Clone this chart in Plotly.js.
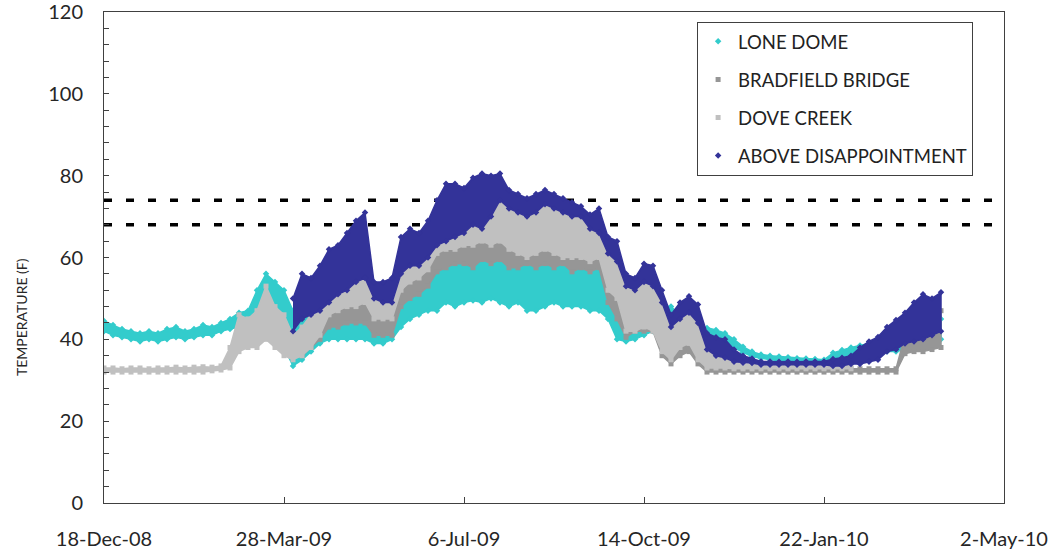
<!DOCTYPE html>
<html>
<head>
<meta charset="utf-8">
<script src="https://cdn.plot.ly/plotly-3.0.1.min.js"></script>
<style>html,body{margin:0;padding:0;background:#fff;}#chart{width:1054px;height:552px;}</style>
</head>
<body>
<div id="chart"></div>
<script>
// Sample grid: one reading every 5 days starting 18-Dec-08 (index 0 .. 94)
const startDate = '2008-12-18';
const sampleEveryDays = 5;

const seriesNames = ['LONE DOME', 'BRADFIELD BRIDGE', 'DOVE CREEK', 'ABOVE DISAPPOINTMENT'];
const thresholds = [74, 68];
const xTick0 = '2008-12-18';
const xRangeEnd = '2010-05-02';
const N = null;

// LONE DOME daily low / high band (F)
const loneDomeLow = [42,41,40.5,40,39.5,40,39.5,40,40.5,40,40.5,41,41,42,42.5,43,43,43,44,41,38,
  33.5,35,37,39,40,40,40,40,40,39,39,40,
  43,45,46,47,47,49,48,49,49.5,49,50,49,48,49,47,47,48,49,48,48,48,47,47,45,40,
  39.5,40,41,42,42,40,41,40,40,41,40.5,39.8,38,36.8,35.8,
  35.4,35,34.8,34.6,34.4,34.3,34.2,34,35,35.3,35.5,36,
  36.5,37,37,37,37.5,37.5,38,38,40,N];
const loneDomeHigh = [44.5,43.5,42.5,42,41.5,42,41.5,42.5,43,42,42.5,43.5,43,44,45,46.5,47,52,56,54,52,
  47,45,46,48,50,51,51,50,50,44,44,45,
  50,53,54,56,58.5,59.5,60,60.5,59,61,60,61,59.5,59,60.5,59,60.5,59,60,58.5,59,58.5,60,51,47,
  42,43,44,48,48,48,46,44,42.5,42.8,42.3,41.5,40,38.2,37,
  36.3,36,35.8,35.6,35.4,35.3,35.2,35,36.7,37.4,38,38.5,
  39,39.5,40,40.5,41,41,41.5,42,45,N];

// BRADFIELD BRIDGE daily low / high band (F)
const bradfieldLow = [N,N,N,N,N,N,N,N,N,N,N,N,N,N,N,N,N,N,N,N,N,
  36,36,38,40,43,43,44,44,44,41,41,41,
  48,50,51,53,56.5,57.5,58.5,58.5,57.5,59.5,58.5,59.5,57.5,57.5,58.5,57.5,58.5,57.5,58.5,56.5,57.5,56.5,57.5,49,45,
  40.5,42,42,42,36,34,36,37,34,32,32,32,32,32,32,
  32,32,32,32,32,32,32,32,32,32,32,32,
  32,32,32,32,36.5,37,37,37.5,38,N];
const bradfieldHigh = [N,N,N,N,N,N,N,N,N,N,N,N,N,N,N,N,N,N,N,N,N,
  41,41,43,45,48,48,49,49,49,46,46,46,
  53,55,56,58,64,65,65,66,66,66,66,67,65,64,64,65,65,64,64,63,63,62,62,54,52,
  44,45,45,45,41,38,40,41,38,33.5,32.8,32.8,32.8,32.8,32.8,
  32.8,32.8,32.8,32.8,32.8,32.8,32.8,32.8,32.8,32.8,32.8,32.8,
  32.8,32.8,32.8,32.8,41,42,42,43,47,N];

// DOVE CREEK daily low / high band (F)
const doveCreekLow = [32,32,32,32,32,32,32,32,32,32,32,32,32.3,32.5,33,37,38,38,40,38,36,
  35,36,38,41,46,47,48,48,49,45,45,45,
  52,54,55,57,61,62,62,63,63,64,63,64,62,61,60,61,62,61,60,60,60,59,60,52,50,
  42,42,43,42,37,35,38,39,35,33,33,33,32.8,32.8,32.8,
  32.8,32.8,32.8,32.8,32.8,32.8,32.8,32.8,32.8,32.8,32.8,N,
  N,N,N,N,N,N,N,N,N,N];
const doveCreekHigh = [33,33,32.8,33,33,32.8,33,33,33.2,33,33.2,33.3,33.2,33.5,38,46,45,47,53,48,46,
  41,43,46,50,52,54,56,57,58,51,51,52,
  58,60,60,62,66,68,69,70,71,71,72,76,72,71,71,72,73,72,72,71,71,70,70,62,60,
  54,53,54.5,53,49,43,45,46.5,44,38,36,35.5,34.5,34,34,
  34,33.9,34,34,33.9,34,34,33.9,34,34,34,N,
  N,N,N,N,N,N,N,N,N,N];

// ABOVE DISAPPOINTMENT daily low / high band (F)
const aboveDisLow = [N,N,N,N,N,N,N,N,N,N,N,N,N,N,N,N,N,N,N,N,N,
  42,45,46,47,49,51,52,54,55,50,49,49,
  56,58,58,60,63,64,65,66,68,67,70,74,72,71,70,71,73,72,71,70,70,67,66,61,59,
  53,52,54,53,49,43,45,46.5,44,37.5,36,35.5,34.5,34.3,34.2,
  33.8,33.8,33.8,33.8,33.8,33.8,33.8,33.8,33.5,33.5,34,34,
  34.5,35,37,37.5,39,39.5,40,41,42,N];
const aboveDisHigh = [N,N,N,N,N,N,N,N,N,N,N,N,N,N,N,N,N,N,N,N,N,
  50,56,55,58,62,63,66,69,71,54,54,55,
  65,67,66,69,74,78,78,77,79.5,80.5,80,80.5,76.5,75.5,74.5,75.5,76.5,75.5,74.5,73.5,72.5,70.5,72,65,64,
  56,55,58.5,58,52,46,49,50.5,48.5,41.5,40.5,40,37.5,36,35.3,
  34.6,34.6,34.5,34.6,34.5,34.6,34.6,34.6,35.2,35.5,36,38,
  39.5,40.6,43,44.7,46.5,49,51,50,51.5,N];

const colors = {
  'LONE DOME': '#33CCCC',
  'BRADFIELD BRIDGE': '#969696',
  'DOVE CREEK': '#C0C0C0',
  'ABOVE DISAPPOINTMENT': '#333399'
};
const symbols = {
  'LONE DOME': 'diamond',
  'BRADFIELD BRIDGE': 'square',
  'DOVE CREEK': 'square',
  'ABOVE DISAPPOINTMENT': 'diamond'
};
const bands = {
  'LONE DOME': [loneDomeLow, loneDomeHigh],
  'BRADFIELD BRIDGE': [bradfieldLow, bradfieldHigh],
  'DOVE CREEK': [doveCreekLow, doveCreekHigh],
  'ABOVE DISAPPOINTMENT': [aboveDisLow, aboveDisHigh]
};

function dateAt(i) {
  const p = startDate.split('-').map(Number);
  const t = Date.UTC(p[0], p[1] - 1, p[2]) + i * sampleEveryDays * 86400000;
  return new Date(t).toISOString().slice(0, 10);
}

function bandTrace(name) {
  const lo = bands[name][0], hi = bands[name][1];
  const xs = [], his = [], los = [];
  for (let i = 0; i < lo.length; i++) {
    if (lo[i] === null || hi[i] === null) continue;
    xs.push(dateAt(i)); his.push(hi[i]); los.push(lo[i]);
  }
  return {
    type: 'scatter', mode: 'lines+markers', name: name,
    x: xs.concat(xs.slice().reverse()),
    y: his.concat(los.slice().reverse()),
    fill: 'toself', fillcolor: colors[name],
    line: {color: colors[name], width: 1.5},
    marker: {color: colors[name], symbol: symbols[name], size: 5},
    showlegend: false, hoverinfo: 'skip'
  };
}

// drawn in legend order: LONE DOME at the back, ABOVE DISAPPOINTMENT in front
const traces = seriesNames.map(bandTrace);

seriesNames.forEach(function (name) {
  traces.push({
    type: 'scatter', mode: 'markers', name: name, x: [null], y: [null],
    legendgroup: name,
    marker: {color: colors[name], symbol: symbols[name], size: 5},
    showlegend: true
  });
});

const shapes = thresholds.map(function (v) {
  return {
    type: 'line', xref: 'paper', x0: 0, x1: 1, yref: 'y', y0: v, y1: v,
    line: {color: '#000000', width: 3.5, dash: '8px,14px'}, layer: 'below'
  };
});

const fontFam = 'Lato, "Open Sans", sans-serif';
const layout = {
  width: 1054, height: 552,
  margin: {l: 104, r: 50, t: 12, b: 49},
  paper_bgcolor: '#ffffff', plot_bgcolor: '#ffffff',
  font: {family: fontFam, color: '#262626'},
  showlegend: true,
  xaxis: {
    type: 'date',
    range: [startDate, xRangeEnd],
    tick0: xTick0, dtick: 100 * 86400000,
    tickformat: '%-d-%b-%y',
    ticks: 'inside', ticklen: 6, tickcolor: '#404040',
    showline: true, mirror: true, linecolor: '#404040', linewidth: 1,
    showgrid: false, zeroline: false,
    tickfont: {family: fontFam, size: 20, color: '#262626'},
    ticklabelstandoff: 18, ticklabeloverflow: 'allow'
  },
  yaxis: {
    range: [0, 120], dtick: 20, tick0: 0,
    ticks: 'inside', ticklen: 5, tickcolor: '#404040',
    minor: {dtick: 4, ticks: 'inside', ticklen: 5, tickcolor: '#404040', showgrid: false},
    showline: true, mirror: true, linecolor: '#404040', linewidth: 1,
    showgrid: false, zeroline: false,
    tickfont: {family: fontFam, size: 20, color: '#262626'},
    ticklabelstandoff: 16, ticklabeloverflow: 'allow'
  },
  legend: {
    x: 0.659, y: 0.98, xanchor: 'left', yanchor: 'top',
    bgcolor: '#ffffff', bordercolor: '#404040', borderwidth: 1,
    font: {family: fontFam, size: 18.5, color: '#222222'},
    traceorder: 'grouped', tracegroupgap: 11, itemwidth: 30
  },
  shapes: shapes,
  annotations: [{
    text: 'TEMPERATURE (F)', textangle: -90,
    xref: 'paper', yref: 'paper', x: -0.091, y: 0.379,
    xanchor: 'center', yanchor: 'middle', showarrow: false,
    font: {family: fontFam, size: 14, color: '#262626'}
  }]
};

Plotly.newPlot('chart', traces, layout, {displayModeBar: false, staticPlot: true});
</script>
</body>
</html>
